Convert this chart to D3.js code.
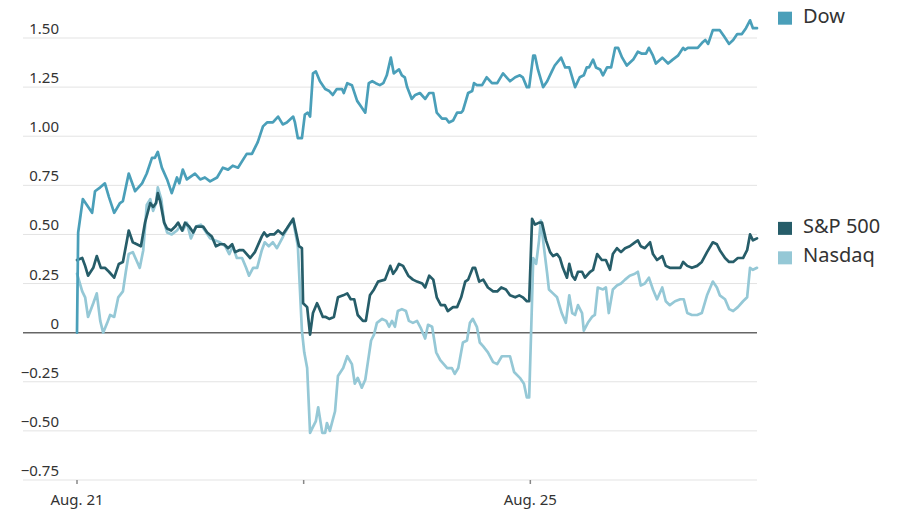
<!DOCTYPE html>
<meta charset="utf-8">
<script src="https://d3js.org/d3.v7.min.js"></script>
<style>
  body { margin: 0; background: #fff; }
</style>
<div id="chart"></div>
<script>

    // minutes since the Aug. 21 open (390 trading minutes per session), % change
    const dow = [
        [0, 0.00], [2, 0.51], [10, 0.68], [17, 0.65], [26, 0.61], [31, 0.72], [40, 0.74], [48, 0.76], [55, 0.69],
        [64, 0.61], [74, 0.66], [79, 0.67], [89, 0.81], [100, 0.72], [112, 0.76], [120, 0.81], [129, 0.89], [134, 0.89],
        [139, 0.92], [146, 0.84], [155, 0.78], [163, 0.71], [172, 0.79], [176, 0.76], [182, 0.83], [189, 0.78],
        [203, 0.81], [212, 0.78], [220, 0.79], [229, 0.77], [241, 0.79], [251, 0.84], [260, 0.83], [268, 0.85],
        [277, 0.84], [292, 0.91], [301, 0.91], [311, 0.97], [320, 1.05], [327, 1.07], [337, 1.07], [346, 1.10],
        [354, 1.06], [361, 1.07], [372, 1.10], [375, 1.07], [380, 0.99], [387, 0.99],
        [392, 1.11], [397, 1.12], [401, 1.10], [406, 1.32], [411, 1.33], [418, 1.28], [427, 1.24], [434, 1.23],
        [440, 1.21], [447, 1.24], [456, 1.24], [459, 1.22], [465, 1.27], [473, 1.26], [482, 1.18], [489, 1.15],
        [496, 1.12], [502, 1.27], [508, 1.28], [514, 1.27], [521, 1.26], [527, 1.27], [533, 1.31], [540, 1.40],
        [545, 1.32], [554, 1.34], [559, 1.31], [564, 1.30], [568, 1.25], [576, 1.19], [582, 1.21], [590, 1.22],
        [599, 1.19], [606, 1.22], [613, 1.22], [619, 1.12], [628, 1.09], [635, 1.09], [640, 1.07], [647, 1.08],
        [654, 1.12], [661, 1.12], [664, 1.13], [673, 1.22], [680, 1.23], [683, 1.27], [688, 1.26], [697, 1.26],
        [705, 1.30], [714, 1.27], [723, 1.27], [733, 1.32], [745, 1.28], [754, 1.30], [762, 1.31], [767, 1.30],
        [774, 1.25], [778, 1.25],
        [785, 1.41], [788, 1.41], [793, 1.34], [802, 1.25], [809, 1.28], [817, 1.33], [822, 1.36], [833, 1.40],
        [840, 1.35], [847, 1.35], [857, 1.25], [865, 1.30], [872, 1.31], [877, 1.35], [881, 1.35], [888, 1.39],
        [893, 1.35], [900, 1.34], [905, 1.31], [912, 1.35], [919, 1.35], [926, 1.45], [931, 1.45], [938, 1.40],
        [946, 1.36], [957, 1.39], [965, 1.43], [972, 1.42], [979, 1.42], [984, 1.45], [991, 1.41], [996, 1.37],
        [1007, 1.40], [1017, 1.37], [1025, 1.39], [1034, 1.41], [1043, 1.45], [1046, 1.44], [1051, 1.45],
        [1060, 1.45], [1068, 1.45], [1077, 1.48], [1081, 1.49], [1086, 1.47], [1094, 1.54], [1101, 1.54],
        [1106, 1.54], [1113, 1.51], [1122, 1.47], [1129, 1.49], [1136, 1.52], [1144, 1.52], [1151, 1.55],
        [1158, 1.59], [1163, 1.55], [1170, 1.55]
    ];

    const sp500 = [
        [0, 0.37], [9, 0.38], [14, 0.34], [19, 0.29], [28, 0.33], [34, 0.39], [41, 0.33], [48, 0.33], [55, 0.31],
        [64, 0.28], [72, 0.35], [79, 0.36], [86, 0.47], [89, 0.52], [96, 0.46], [103, 0.45], [110, 0.44],
        [117, 0.56], [126, 0.66], [131, 0.64], [136, 0.66], [139, 0.71], [143, 0.67], [150, 0.56], [155, 0.53],
        [162, 0.52], [169, 0.54], [174, 0.56], [181, 0.52], [186, 0.56], [193, 0.54], [200, 0.51], [205, 0.54],
        [212, 0.54], [217, 0.54], [224, 0.51], [232, 0.49], [239, 0.44], [246, 0.45], [253, 0.45], [260, 0.43],
        [267, 0.45], [272, 0.41], [279, 0.42], [286, 0.42], [298, 0.38], [306, 0.41], [318, 0.49], [322, 0.51],
        [327, 0.49], [332, 0.50], [339, 0.50], [346, 0.52], [354, 0.50], [361, 0.53], [372, 0.58], [377, 0.51],
        [382, 0.44], [387, 0.43],
        [389, 0.15], [396, 0.13], [401, -0.01], [406, 0.10], [413, 0.15], [416, 0.13], [423, 0.08], [428, 0.08],
        [434, 0.07], [442, 0.08], [449, 0.18], [458, 0.19], [465, 0.20], [471, 0.17], [477, 0.17], [483, 0.09],
        [492, 0.06], [497, 0.06], [504, 0.19], [511, 0.22], [518, 0.26], [530, 0.27], [539, 0.34], [544, 0.30],
        [549, 0.32], [554, 0.35], [561, 0.34], [570, 0.29], [578, 0.27], [585, 0.26], [594, 0.25], [599, 0.23],
        [606, 0.29], [613, 0.27], [619, 0.18], [626, 0.14], [633, 0.14], [638, 0.11], [647, 0.13], [654, 0.13],
        [661, 0.18], [668, 0.26], [673, 0.27], [681, 0.33], [685, 0.33], [692, 0.26], [699, 0.27], [707, 0.23],
        [716, 0.21], [723, 0.21], [730, 0.23], [738, 0.22], [745, 0.19], [754, 0.18], [761, 0.19], [767, 0.18],
        [774, 0.16], [778, 0.16],
        [783, 0.58], [788, 0.55], [795, 0.56], [800, 0.56], [807, 0.47], [814, 0.41], [819, 0.39], [826, 0.40],
        [831, 0.38], [836, 0.33], [843, 0.28], [847, 0.35], [852, 0.29], [857, 0.27], [862, 0.31], [869, 0.31],
        [874, 0.28], [883, 0.31], [888, 0.32], [895, 0.40], [903, 0.37], [910, 0.37], [917, 0.32], [922, 0.40],
        [929, 0.43], [936, 0.41], [943, 0.43], [951, 0.44], [960, 0.46], [965, 0.47], [970, 0.44], [977, 0.43],
        [986, 0.46], [991, 0.40], [998, 0.37], [1007, 0.39], [1013, 0.34], [1020, 0.33], [1029, 0.33],
        [1038, 0.33], [1043, 0.36], [1050, 0.34], [1058, 0.33], [1067, 0.34], [1075, 0.36], [1084, 0.41],
        [1094, 0.46], [1101, 0.45], [1106, 0.42], [1115, 0.38], [1122, 0.36], [1129, 0.36], [1137, 0.38],
        [1146, 0.38], [1153, 0.42], [1158, 0.50], [1163, 0.47], [1170, 0.48]
    ];

    const nasdaq = [
        [0, 0.30], [9, 0.21], [14, 0.18], [19, 0.08], [28, 0.15], [34, 0.20], [40, 0.06], [45, 0.00], [52, 0.05],
        [57, 0.09], [64, 0.08], [71, 0.18], [79, 0.21], [84, 0.31], [89, 0.40], [96, 0.41], [102, 0.37],
        [108, 0.33], [114, 0.42], [120, 0.65], [126, 0.68], [131, 0.62], [136, 0.66], [139, 0.74], [145, 0.68],
        [150, 0.56], [155, 0.51], [163, 0.50], [172, 0.52], [177, 0.54], [182, 0.52], [189, 0.56], [196, 0.48],
        [205, 0.54], [213, 0.55], [220, 0.52], [229, 0.48], [237, 0.47], [246, 0.46], [255, 0.44], [262, 0.40],
        [268, 0.44], [275, 0.38], [284, 0.38], [291, 0.33], [296, 0.29], [303, 0.33], [310, 0.33], [318, 0.42],
        [323, 0.46], [330, 0.44], [337, 0.46], [344, 0.43], [353, 0.48], [358, 0.51], [366, 0.55], [372, 0.57],
        [375, 0.52], [380, 0.44], [387, 0.01],
        [391, -0.10], [396, -0.18], [401, -0.51], [406, -0.48], [411, -0.45], [415, -0.38], [422, -0.51],
        [427, -0.51], [430, -0.46], [435, -0.50], [444, -0.40], [449, -0.22], [458, -0.18], [465, -0.12],
        [473, -0.16], [478, -0.26], [483, -0.23], [490, -0.28], [496, -0.24], [501, -0.14], [506, -0.04],
        [511, -0.01], [516, 0.05], [525, 0.07], [532, 0.06], [537, 0.03], [542, 0.06], [547, 0.03], [552, 0.11],
        [559, 0.12], [566, 0.11], [571, 0.06], [578, 0.05], [585, 0.06], [592, 0.02], [599, -0.03], [604, 0.04],
        [611, 0.03], [618, -0.10], [625, -0.14], [631, -0.16], [637, -0.18], [645, -0.18], [650, -0.21],
        [656, -0.18], [664, -0.05], [671, -0.04], [676, 0.05], [681, 0.07], [688, 0.03], [693, -0.05],
        [699, -0.07], [707, -0.10], [716, -0.15], [723, -0.16], [731, -0.12], [745, -0.12], [752, -0.20],
        [762, -0.23], [769, -0.26], [774, -0.33], [778, -0.33],
        [783, 0.17], [785, 0.38], [790, 0.35], [795, 0.47], [798, 0.57], [804, 0.42], [809, 0.30], [812, 0.22],
        [819, 0.20], [826, 0.18], [834, 0.10], [841, 0.05], [847, 0.19], [852, 0.10], [857, 0.09], [862, 0.14],
        [869, 0.10], [872, 0.01], [879, 0.05], [886, 0.08], [891, 0.09], [896, 0.23], [905, 0.22], [910, 0.23],
        [915, 0.10], [922, 0.22], [929, 0.24], [936, 0.25], [943, 0.27], [951, 0.29], [960, 0.30], [965, 0.31],
        [970, 0.24], [977, 0.25], [984, 0.28], [991, 0.22], [998, 0.17], [1007, 0.23], [1013, 0.16],
        [1020, 0.14], [1029, 0.16], [1038, 0.17], [1044, 0.17], [1050, 0.10], [1058, 0.09], [1067, 0.09],
        [1075, 0.10], [1084, 0.19], [1094, 0.26], [1101, 0.23], [1106, 0.19], [1115, 0.17], [1122, 0.12],
        [1129, 0.11], [1137, 0.13], [1146, 0.16], [1153, 0.18], [1158, 0.33], [1163, 0.32], [1170, 0.33]
    ];

    const sessionStarts = [0, 390, 780];
    const sessionLabels = ["Aug. 21", "", "Aug. 25"];
    const yTicks = [-0.75, -0.5, -0.25, 0, 0.25, 0.5, 0.75, 1.0, 1.25, 1.5];

    const seriesNames = ["Dow", "S&P 500", "Nasdaq"];
    const seriesColors = ["#4a9fb9", "#265d69", "#95c8d6"];

    const width = 900;
    const height = 510;
    const plotLeft = 77;
    const plotRight = 757;
    const gridLeft = 23;

    const svg = d3.select("#chart")
        .append("svg")
        .attr("width", width)
        .attr("height", height)
        .style("font-family", "'Noto Sans', sans-serif");

    const x = d3.scaleLinear()
        .domain([0, 1170])
        .range([plotLeft, plotRight]);

    const y = d3.scaleLinear()
        .domain([-0.75, 1.5])
        .range([480, 38]);

    // gridlines + y labels
    const yAxis = svg.append("g");
    yAxis.selectAll("line")
        .data(yTicks)
        .join("line")
        .attr("x1", gridLeft)
        .attr("x2", plotRight)
        .attr("y1", d => y(d))
        .attr("y2", d => y(d))
        .attr("stroke", d => d === 0 ? "#666" : "#e3e3e3")
        .attr("stroke-width", d => d === 0 ? 1.5 : 1);

    const fmt = d => d === 0 ? "0" : d3.format(".2f")(d);
    yAxis.selectAll("text")
        .data(yTicks)
        .join("text")
        .attr("x", 59)
        .attr("y", d => y(d) - 4)
        .attr("text-anchor", "end")
        .attr("fill", "#333")
        .attr("font-size", 15)
        .text(fmt);

    // x ticks at each session open
    const xAxis = svg.append("g");
    xAxis.selectAll("line")
        .data(sessionStarts)
        .join("line")
        .attr("x1", d => x(d))
        .attr("x2", d => x(d))
        .attr("y1", y(-0.75))
        .attr("y2", y(-0.75) + 4)
        .attr("stroke", "#888")
        .attr("stroke-width", 1.5);

    xAxis.selectAll("text")
        .data(sessionStarts)
        .join("text")
        .attr("x", d => x(d))
        .attr("y", 505)
        .attr("text-anchor", "middle")
        .attr("fill", "#333")
        .attr("font-size", 15)
        .text((d, i) => sessionLabels[i]);

    // lines, drawn lightest first so the Dow and S&P sit on top
    const line = d3.line()
        .x(d => x(d[0]))
        .y(d => y(d[1]));

    const allSeries = [dow, sp500, nasdaq];
    [2, 1, 0].forEach(i => {
        svg.append("path")
            .datum(allSeries[i])
            .attr("fill", "none")
            .attr("stroke", seriesColors[i])
            .attr("stroke-width", 2.7)
            .attr("stroke-linejoin", "round")
            .attr("stroke-linecap", "round")
            .attr("d", line);
    });

    // legend next to each series' last value
    let lastY = -Infinity;
    const legendY = [0, 1, 2].map(i => y(allSeries[i][allSeries[i].length - 1][1]) - 10)
    const order = [0, 1, 2].sort((a, b) => legendY[a] - legendY[b]);
    order.forEach(i => {
        const cy = Math.max(legendY[i], lastY + 29);
        lastY = cy;
        const g = svg.append("g").attr("transform", `translate(778,${cy})`);
        g.append("rect")
            .attr("x", 0)
            .attr("y", -6.5)
            .attr("width", 14)
            .attr("height", 13)
            .attr("fill", seriesColors[i]);
        g.append("text")
            .attr("x", 25)
            .attr("y", 4.5)
            .attr("fill", "#333")
            .attr("font-size", 20)
            .text(seriesNames[i]);
    });

</script>
